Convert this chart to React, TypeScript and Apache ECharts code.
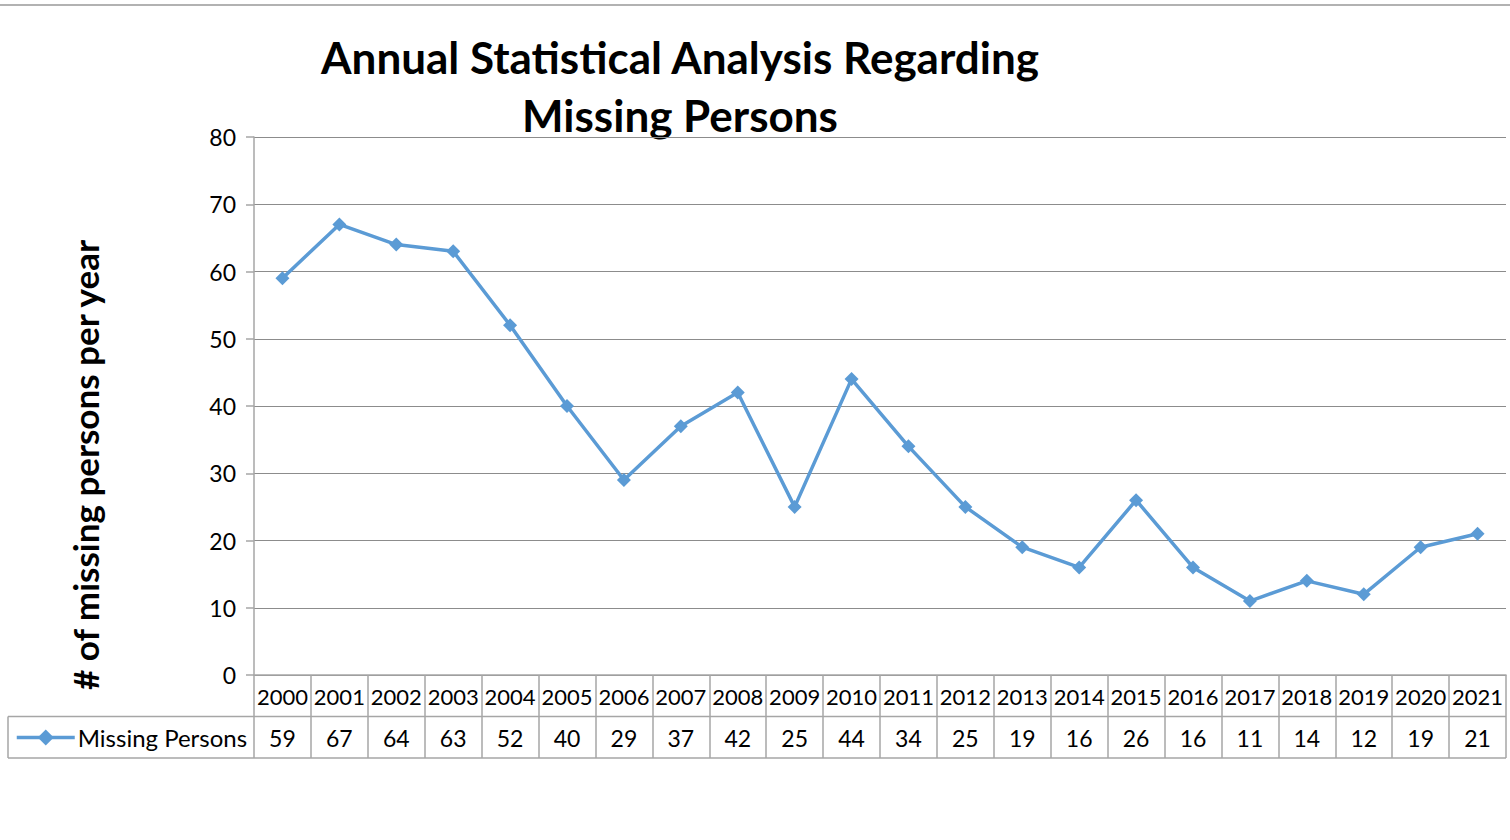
import React, { useEffect, useRef } from "react";
import * as echarts from "echarts";

const years = ["2000","2001","2002","2003","2004","2005","2006","2007","2008","2009","2010","2011","2012","2013","2014","2015","2016","2017","2018","2019","2020","2021"];
const missingPersons = [59,67,64,63,52,40,29,37,42,25,44,34,25,19,16,26,16,11,14,12,19,21];
const yTicks = { min: 0, max: 80, interval: 10 };
const titleLines = ["Annual Statistical Analysis Regarding", "Missing Persons"];
const yTitle = "# of missing persons per year";
const seriesName = "Missing Persons";

const FONT = "Lato, 'Open Sans', sans-serif";
const GRID = { left: 254, right: 4, top: 137, bottom: 165 };
const W = 1510, H = 840;
const TABLE_ROW = 41.5;

export default function App() {
  const ref = useRef<HTMLDivElement>(null);
  useEffect(() => {
    if (!ref.current) return;
    const chart = echarts.init(ref.current, undefined, { renderer: "svg" });
    const axisBottom = H - GRID.bottom;
    const row1 = axisBottom + TABLE_ROW;
    const row2 = axisBottom + 2 * TABLE_ROW;
    const lineColor = "#a6a6a6";
    chart.setOption({
      animation: false,
      backgroundColor: "#fff",
      textStyle: { fontFamily: FONT },
      grid: { ...GRID, containLabel: false },
      legend: {
        left: 10,
        top: row1 + 4,
        itemWidth: 58,
        itemHeight: 20,
        itemGap: 0,
        data: [seriesName],
        lineStyle: { width: 3.5 },
        textStyle: { fontSize: 24, color: "#000", fontFamily: FONT, padding: [0, 0, 0, -2] },
      },
      xAxis: [
        {
          type: "category",
          data: years,
          boundaryGap: true,
          axisLine: { show: true, lineStyle: { color: lineColor, width: 1.5 } },
          axisTick: { show: true, interval: 0, length: 2 * TABLE_ROW, lineStyle: { color: lineColor, width: 1.5 } },
          axisLabel: { color: "#000", fontSize: 22, interval: 0, margin: 10, fontFamily: FONT },
        },
        {
          type: "category",
          data: missingPersons.map(String),
          position: "bottom",
          offset: TABLE_ROW,
          boundaryGap: true,
          axisLine: { show: false },
          axisTick: { show: false },
          axisLabel: { color: "#000", fontSize: 23, interval: 0, margin: 10, fontFamily: FONT },
        },
      ],
      yAxis: {
        type: "value",
        min: yTicks.min,
        max: yTicks.max,
        interval: yTicks.interval,
        axisLine: { show: true, lineStyle: { color: lineColor, width: 1.5 } },
        axisTick: { show: true, length: 8, lineStyle: { color: lineColor, width: 1.5 } },
        axisLabel: { color: "#000", fontSize: 23, margin: 18, fontFamily: FONT },
        splitLine: { show: true, lineStyle: { color: "#8c8c8c", width: 1.2 } },
      },
      series: [
        {
          name: seriesName,
          type: "line",
          xAxisIndex: 0,
          data: missingPersons,
          symbol: "diamond",
          symbolSize: 14,
          lineStyle: { color: "#5B9BD5", width: 3.5 },
          itemStyle: { color: "#5B9BD5" },
        },
      ],
      graphic: [
        { type: "line", shape: { x1: 0, y1: 5, x2: W, y2: 5 }, style: { stroke: "#999", lineWidth: 1.5 } },
        {
          type: "text",
          x: 680,
          y: 57,
          style: { text: titleLines[0], font: `bold 44px ${FONT}`, fill: "#000", textAlign: "center", textVerticalAlign: "middle" },
        },
        {
          type: "text",
          x: 680,
          y: 115,
          style: { text: titleLines[1], font: `bold 44px ${FONT}`, fill: "#000", textAlign: "center", textVerticalAlign: "middle" },
        },
        {
          type: "text",
          x: 85,
          y: 465,
          rotation: Math.PI / 2,
          style: { text: yTitle, font: `bold 35px ${FONT}`, fill: "#000", textAlign: "center", textVerticalAlign: "middle" },
        },
        { type: "line", shape: { x1: 8, y1: row1, x2: W - GRID.right, y2: row1 }, style: { stroke: lineColor, lineWidth: 1.5 } },
        { type: "line", shape: { x1: 8, y1: row2, x2: W - GRID.right, y2: row2 }, style: { stroke: lineColor, lineWidth: 1.5 } },
        { type: "line", shape: { x1: 8, y1: row1, x2: 8, y2: row2 }, style: { stroke: lineColor, lineWidth: 1.5 } },
      ],
    });
    return () => chart.dispose();
  }, []);
  return <div ref={ref} style={{ position: "fixed", left: 0, top: 0, width: W, height: H }} />;
}
